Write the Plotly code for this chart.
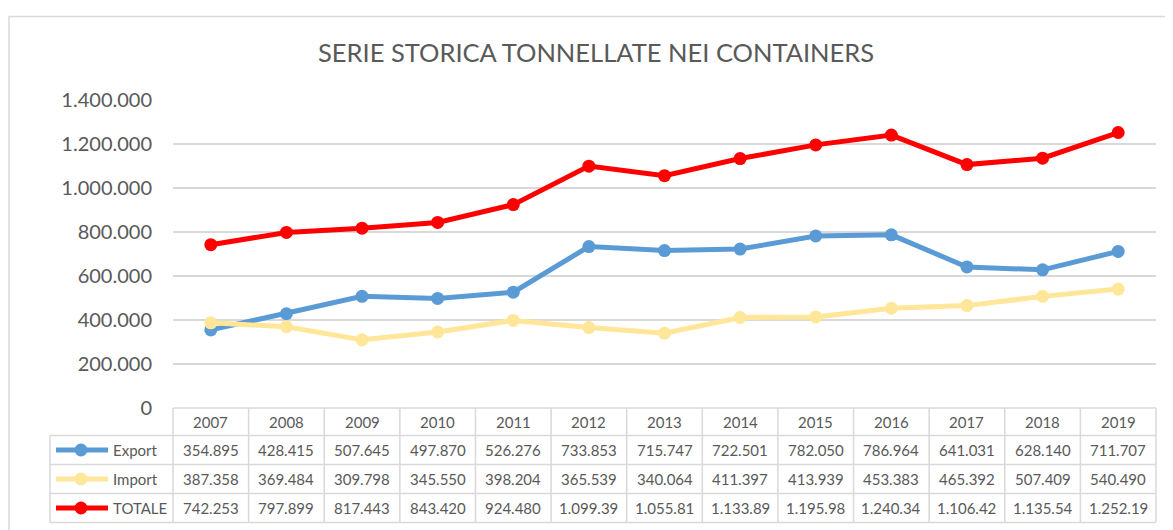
import plotly.graph_objects as go

# ---------------- data ----------------
years = ["2007", "2008", "2009", "2010", "2011", "2012", "2013",
         "2014", "2015", "2016", "2017", "2018", "2019"]
export_t = [354895, 428415, 507645, 497870, 526276, 733853, 715747,
            722501, 782050, 786964, 641031, 628140, 711707]
import_t = [387358, 369484, 309798, 345550, 398204, 365539, 340064,
            411397, 413939, 453383, 465392, 507409, 540490]
totale_t = [742253, 797899, 817443, 843420, 924480, 1099392, 1055811,
            1133898, 1195989, 1240347, 1106423, 1135549, 1252197]
series_names = ["Export", "Import", "TOTALE"]
series_colors = ["#5B9BD5", "#FFE699", "#FF0000"]
y_ticks = [0, 200000, 400000, 600000, 800000, 1000000, 1200000, 1400000]
chart_title = "SERIE STORICA TONNELLATE NEI CONTAINERS"

series_values = [export_t, import_t, totale_t]

# ---------------- layout helpers ----------------
# target positions are given in screenshot pixels; the page body adds an 8px margin
OFF = 8
W, H = 1173 - OFF, 530 - OFF
L, R, T, B = 173, 1156, 100, 408   # plot area in screenshot pixels
FONT = "Lato"
GREY_TXT = "#595959"
GRID = "#D9D9D9"


def fx(px):
    return (px - L) / (R - L)


def fy(py):
    return (B - py) / (B - T)


def fmt(v):
    s = f"{v:,}".replace(",", ".")
    return s[:8]  # cell is too narrow: Excel clips the last digit


fig = go.Figure()
for name, vals, col in zip(series_names, series_values, series_colors):
    fig.add_trace(go.Scatter(
        x=list(range(len(years))), y=vals, name=name, mode="lines+markers",
        line=dict(color=col, width=5),
        marker=dict(color=col, size=13),
        showlegend=False, cliponaxis=False,
    ))

shapes = []
annotations = []

# outer chart border
shapes.append(dict(type="rect", xref="paper", yref="paper",
                   x0=fx(9), x1=fx(1190), y0=fy(545), y1=fy(16.5),
                   line=dict(color=GRID, width=1.5), fillcolor="rgba(0,0,0,0)",
                   layer="below"))

# ---------------- data table ----------------
n = len(years)
colw = (R - L) / n
row_edges = [408, 435.5, 464.5, 493.5, 522.5]
leg_left = 50
shapes.append(dict(type="line", xref="paper", yref="paper",
                   x0=fx(L), x1=fx(R), y0=fy(row_edges[0]), y1=fy(row_edges[0]),
                   line=dict(color=GRID, width=1.5)))
for ry in row_edges[1:]:
    shapes.append(dict(type="line", xref="paper", yref="paper",
                       x0=fx(leg_left), x1=fx(R), y0=fy(ry), y1=fy(ry),
                       line=dict(color=GRID, width=1.5)))
shapes.append(dict(type="line", xref="paper", yref="paper",
                   x0=fx(leg_left), x1=fx(leg_left), y0=fy(row_edges[1]), y1=fy(row_edges[-1]),
                   line=dict(color=GRID, width=1.5)))
for k in range(n + 1):
    xx = L + k * colw
    shapes.append(dict(type="line", xref="paper", yref="paper",
                       x0=fx(xx), x1=fx(xx), y0=fy(row_edges[0]), y1=fy(row_edges[-1]),
                       line=dict(color=GRID, width=1.5)))

# header row: years
for i, yr in enumerate(years):
    annotations.append(dict(x=i, xref="x", y=fy((row_edges[0] + row_edges[1]) / 2), yref="paper",
                            text=yr, showarrow=False, xanchor="center", yanchor="middle",
                            font=dict(family=FONT, size=15, color=GREY_TXT)))

# series rows
for r, (name, vals, col) in enumerate(zip(series_names, series_values, series_colors)):
    cy = (row_edges[r + 1] + row_edges[r + 2]) / 2
    for i, v in enumerate(vals):
        annotations.append(dict(x=i, xref="x", y=fy(cy), yref="paper",
                                text=fmt(v), showarrow=False, xanchor="center", yanchor="middle",
                                font=dict(family=FONT, size=15, color=GREY_TXT)))
    shapes.append(dict(type="line", xref="paper", yref="paper",
                       x0=fx(56), x1=fx(108), y0=fy(cy), y1=fy(cy),
                       line=dict(color=col, width=5)))
    shapes.append(dict(type="circle", xref="paper", yref="paper",
                       x0=fx(81 - 6.5), x1=fx(81 + 6.5), y0=fy(cy + 6.5), y1=fy(cy - 6.5),
                       line=dict(color=col, width=0), fillcolor=col))
    annotations.append(dict(x=fx(111), xref="paper", y=fy(cy), yref="paper",
                            text=name, showarrow=False, xanchor="left", yanchor="middle",
                            font=dict(family=FONT, size=15, color=GREY_TXT)))

# title
annotations.append(dict(x=fx(596), xref="paper", y=fy(52), yref="paper",
                        text=chart_title, showarrow=False, xanchor="center", yanchor="middle",
                        font=dict(family=FONT, size=25.5, color=GREY_TXT)))

fig.update_layout(
    width=W, height=H,
    margin=dict(l=L - OFF, r=W - (R - OFF), t=T - OFF, b=H - (B - OFF), pad=0),
    paper_bgcolor="white", plot_bgcolor="white",
    separators=",.",
    shapes=shapes, annotations=annotations,
    xaxis=dict(range=[-0.5, n - 0.5], showticklabels=False, showgrid=False,
               zeroline=False, showline=False, fixedrange=True),
    yaxis=dict(range=[0, 1400000], tickvals=y_ticks, tickformat=",d",
               showgrid=True, gridcolor=GRID, gridwidth=1.5, zeroline=False,
               showline=False, ticks="", ticklabelstandoff=20,
               tickfont=dict(family=FONT, size=20, color=GREY_TXT)),
    font=dict(family=FONT, color=GREY_TXT),
)

fig.write_html("out.html")
